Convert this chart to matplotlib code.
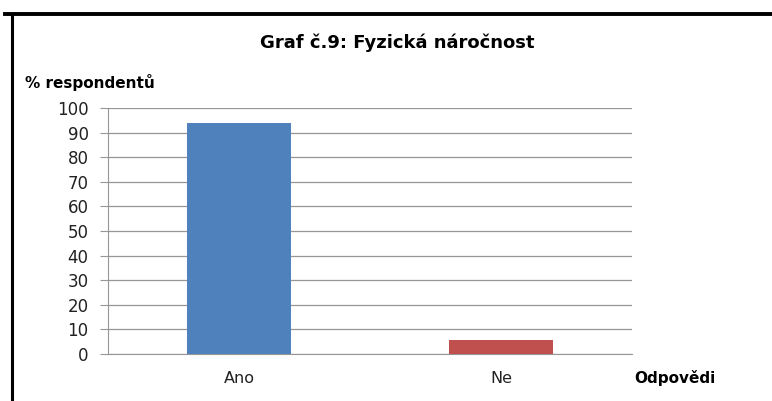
import matplotlib.pyplot as plt
from matplotlib.lines import Line2D

categories = ['Ano', 'Ne']
values = [94, 5.5]
bar_colors = ['#4F81BD', '#C0504D']
y_ticks = list(range(0, 101, 10))

plt.rcParams['font.family'] = ['DejaVu Sans']

fig = plt.figure(figsize=(7.72, 4.01), dpi=100)
ax = fig.add_axes([0.1399, 0.1172, 0.6788, 0.6135])

x = range(len(categories))
ax.bar(x, values, width=0.4, color=bar_colors, zorder=3)

ax.set_xlim(-0.5, 1.5)
ax.set_ylim(0, 100)
ax.set_yticks(y_ticks)
ax.set_xticks(list(x))
ax.set_xticklabels(categories, fontsize=11.5, color='#222222')
ax.tick_params(axis='y', labelsize=12, labelcolor='#222222', length=6,
               color='#969696', pad=8)
ax.tick_params(axis='x', length=0, pad=12)
ax.grid(True, axis='y', color='#969696', linewidth=0.9, zorder=0)

for side in ['top', 'right']:
    ax.spines[side].set_visible(False)
ax.spines['left'].set_color('#969696')
ax.spines['bottom'].set_color('#969696')

fig.text(0.515, 0.893, 'Graf č.9: Fyzická náročnost', ha='center', va='center',
         fontsize=13, fontweight='bold')
fig.text(0.032, 0.795, '% respondentů', ha='left', va='center',
         fontsize=11, fontweight='bold')
fig.text(0.822, 0.057, 'Odpovědi', ha='left', va='center',
         fontsize=11, fontweight='bold')

# frame lines from the source page
fig.add_artist(Line2D([0.006, 1.0], [0.966, 0.966], color='black', linewidth=2.8,
                      transform=fig.transFigure))
fig.add_artist(Line2D([0.0149, 0.0149], [0.966, 0.0], color='black', linewidth=2.2,
                      transform=fig.transFigure))

plt.savefig('out.png', dpi=100)
